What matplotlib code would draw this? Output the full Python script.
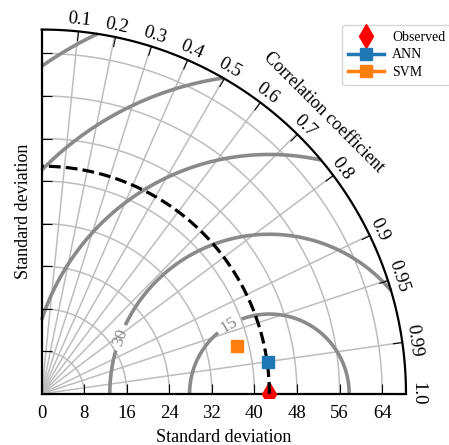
import numpy as np
import matplotlib
matplotlib.use('Agg')
import matplotlib.pyplot as plt
from matplotlib.projections import PolarAxes
import mpl_toolkits.axisartist.floating_axes as FA
import mpl_toolkits.axisartist.grid_finder as GF

plt.rcParams['font.family'] = ['Liberation Serif', 'DejaVu Serif']

# values
ref_std = 42.8
model_names = ['ANN', 'SVM']
model_std = [42.95, 37.8]
model_corr = [0.990, 0.971]
model_colors = ['#1f77b4', '#ff7f0e']

corr_ticks = [0.1, 0.2, 0.3, 0.4, 0.5, 0.6, 0.7, 0.8, 0.9, 0.95, 0.99, 1.0]
std_ticks = [0, 8, 16, 24, 32, 40, 48, 56, 64]
rms_levels = [15, 30, 45, 60, 75]
rms_labelled = [15, 30]

smax = 1.6 * ref_std

fig = plt.figure(figsize=(4.49, 4.45), dpi=100)

tr = PolarAxes.PolarTransform(apply_theta_transforms=False)
tlocs = np.arccos(corr_ticks)
gl1 = GF.FixedLocator(tlocs)
tf1 = GF.DictFormatter(dict(zip(tlocs, [str(c) for c in corr_ticks])))
gl2 = GF.FixedLocator(std_ticks)
tf2 = GF.DictFormatter({s: str(s) for s in std_ticks})

gh = FA.GridHelperCurveLinear(tr, extremes=(0, np.pi / 2, 0, smax),
                              grid_locator1=gl1, tick_formatter1=tf1,
                              grid_locator2=gl2, tick_formatter2=tf2)

# floating axes pad the limits by 2%, so the box is a bit larger than the quadrant
ax = fig.add_axes([0.0847, 0.1064, 0.8276, 0.8357],
                  axes_class=FA.FloatingAxes, grid_helper=gh)

# correlation arc
ax.axis["top"].set_axis_direction("bottom")
ax.axis["top"].toggle(ticklabels=True, label=True)
ax.axis["top"].major_ticklabels.set_axis_direction("top")
ax.axis["top"].label.set_axis_direction("top")
ax.axis["top"].label.set_text("Correlation coefficient")

# x axis (theta = 0)
ax.axis["left"].set_axis_direction("bottom")
ax.axis["left"].label.set_text("Standard deviation")

# y axis (theta = pi/2)
ax.axis["right"].set_axis_direction("left")
ax.axis["right"].toggle(ticklabels=False, label=True)
ax.axis["right"].label.set_text("Standard deviation")

ax.axis["bottom"].set_visible(False)

for key in ["top", "left", "right"]:
    ax.axis[key].line.set_linewidth(1.6)
    ax.axis[key].major_ticks.set_ticksize(7)
    ax.axis[key].major_ticks.set_linewidth(1.3)
    ax.axis[key].major_ticklabels.set_fontsize(13.5)
    ax.axis[key].label.set_fontsize(13)

ax.axis["left"].major_ticklabels.set_pad(8)
ax.axis["left"].label.set_pad(8)
ax.axis["top"].major_ticklabels.set_pad(5)
ax.axis["top"].label.set_pad(4)
ax.axis["right"].label.set_pad(7)

ax.grid(True, color='#bdbdbd', linewidth=1.1)

aux = ax.get_aux_axes(tr)

# reference point and its std circle
aux.plot([0], [ref_std], 'd', color='red', ms=12, label='Observed', zorder=3)
t = np.linspace(0, np.pi / 2, 200)
aux.plot(t, np.full_like(t, ref_std), 'k--', lw=2.3, zorder=4)

for name, s, c, col in zip(model_names, model_std, model_corr, model_colors):
    aux.plot(np.arccos(c), s, marker='s', ms=8.5, color=col, lw=2.5,
             label=name, zorder=6)

# centred RMS difference contours
rs, ts = np.meshgrid(np.linspace(0, smax, 300), np.linspace(0, np.pi / 2, 300))
rms = np.sqrt(ref_std**2 + rs**2 - 2 * ref_std * rs * np.cos(ts))
cs = aux.contour(ts, rs, rms, rms_levels, colors='#8a8a8a', linewidths=2.6)
aux.clabel(cs, levels=rms_labelled, inline=True, fontsize=12.5, fmt='%.0f',
           manual=[(0.365, 37.5), (0.642, 17.9)])

handles, labels = aux.get_legend_handles_labels()
fig.legend(handles, labels, loc='upper left', bbox_to_anchor=(0.7617, 0.9438),
           borderaxespad=0, fontsize=10, numpoints=1, handlelength=2.6,
           handletextpad=0.6, labelspacing=0.35)

fig.savefig('out.png', dpi=100)
